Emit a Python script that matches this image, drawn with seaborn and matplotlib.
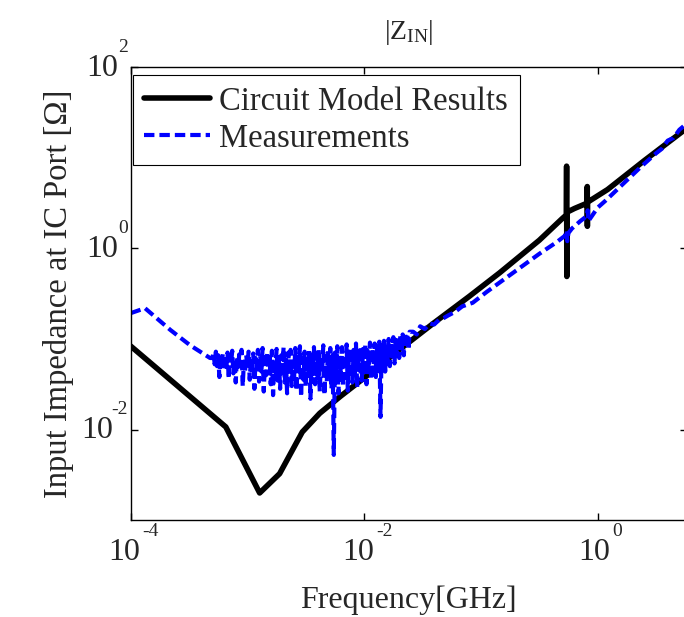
import numpy as np
import pandas as pd
import matplotlib
matplotlib.use("Agg")
import matplotlib.pyplot as plt
from matplotlib.ticker import NullLocator
import seaborn as sns

# valores, en exponentes log10 (frecuencia en GHz, impedancia en ohm)
model_logf = [-4.0, -3.185, -2.895, -2.724, -2.53, -2.38, -2.2, -2.0, -1.7, -1.4,
              -1.1, -0.84, -0.5, -0.303, -0.268, -0.266, -0.264, -0.262, -0.2,
              -0.09, -0.089, -0.088, -0.087, 0.085, 0.4, 0.746]
model_logz = [-1.078, -1.971, -2.70, -2.487, -2.027, -1.82, -1.63, -1.43, -1.12, -0.82,
              -0.53, -0.27, 0.09, 0.33, 0.37, 0.908, -0.31, 0.40, 0.44,
              0.50, 0.683, 0.244, 0.51, 0.65, 0.97, 1.31]

# medicion: tramo inicial
meas_logf_start = [-4.0, -3.877, -3.66, -3.49, -3.32]
meas_logz_start = [-0.715, -0.66, -0.90, -1.07, -1.21]

# medicion: tramo ruidoso (muestreado cada 0.01 decadas, de -3.30 a -1.61)
meas_logf_noise = np.arange(-330, -160) / 100.0
meas_logz_noise = [-1.21, -1.15, -1.28, -1.14, -1.30, -1.18, -1.42, -1.20, -1.26, -1.16,
                   -1.35, -1.22, -1.31, -1.15, -1.44, -1.19, -1.27, -1.13, -1.38, -1.24,
                   -1.48, -1.20, -1.33, -1.17, -1.29, -1.12, -1.52, -1.25, -1.36, -1.18,
                   -1.30, -1.14, -1.45, -1.22, -1.38, -1.16, -1.55, -1.21, -1.33, -1.12,
                   -1.47, -1.19, -1.36, -1.10, -1.58, -1.24, -1.40, -1.15, -1.32, -1.20,
                   -1.50, -1.13, -1.62, -1.26, -1.37, -1.11, -1.46, -1.21, -1.55, -1.18,
                   -1.34, -1.09, -1.48, -1.23, -1.60, -1.15, -1.39, -1.12, -1.52, -1.25,
                   -1.42, -1.10, -1.57, -1.20, -1.35, -1.08, -1.64, -1.22, -1.45, -1.14,
                   -1.53, -1.18, -1.40, -1.11, -1.66, -1.24, -1.38, -1.09, -1.50, -1.16,
                   -1.44, -1.12, -1.58, -1.20, -1.36, -1.07, -1.62, -1.19, -1.47, -1.13,
                   -1.40, -1.10, -1.55, -1.18, -2.28, -1.15, -1.45, -1.08, -1.60, -1.21,
                   -1.38, -1.09, -1.52, -1.17, -1.43, -1.06, -1.57, -1.14, -1.36, -1.10,
                   -1.48, -1.12, -1.41, -1.05, -1.54, -1.16, -1.35, -1.08, -1.46, -1.11,
                   -1.39, -1.06, -1.50, -1.13, -1.33, -1.04, -1.45, -1.10, -1.37, -1.05,
                   -1.42, -1.08, -1.32, -1.03, -1.86, -1.07, -1.30, -1.02, -1.36, -1.06,
                   -1.25, -1.00, -1.30, -1.03, -1.22, -0.98, -1.27, -1.01, -1.18, -0.97,
                   -1.21, -0.96, -1.15, -0.95, -1.18, -0.93, -1.10, -0.94, -1.12, -0.92]

# medicion: tramo final (inductivo)
meas_logf_end = [-1.58, -1.55, -1.52, -1.48, -1.44, -1.40, -1.36, -1.32, -1.28, -1.22,
                 -1.16, -1.07, -0.95, -0.80, -0.65, -0.50, -0.35, -0.28, -0.265, -0.26,
                 -0.25, -0.22, -0.15, -0.09, -0.085, -0.08, 0.0, 0.07, 0.2, 0.37,
                 0.5, 0.55, 0.6, 0.65, 0.7, 0.746]
meas_logz_end = [-0.92, -0.95, -0.86, -0.89, -0.83, -0.84, -0.79, -0.77, -0.74, -0.70,
                 -0.64, -0.60, -0.48, -0.34, -0.20, -0.06, 0.07, 0.14, 0.20, 0.08,
                 0.17, 0.22, 0.30, 0.36, 0.42, 0.30, 0.45, 0.53, 0.69, 0.90,
                 1.05, 1.10, 1.19, 1.22, 1.31, 1.36]

x_ticks = [1e-4, 1e-2, 1e0]
x_exps = ["-4", "-2", "0"]
y_ticks = [1e-2, 1e0, 1e2]
y_exps = ["-2", "0", "2"]

model = pd.DataFrame({"f": 10.0 ** np.array(model_logf),
                      "z": 10.0 ** np.array(model_logz)})
meas_logf = np.concatenate([meas_logf_start, meas_logf_noise, meas_logf_end])
meas_logz = np.concatenate([meas_logz_start, meas_logz_noise, meas_logz_end])
meas = pd.DataFrame({"f": 10.0 ** meas_logf, "z": 10.0 ** meas_logz})

sns.set_style("ticks")
plt.rcParams["font.family"] = ["Liberation Serif", "DejaVu Serif"]
plt.rcParams["mathtext.fontset"] = "custom"
plt.rcParams["mathtext.rm"] = "Liberation Serif"
plt.rcParams["mathtext.it"] = "Liberation Serif:italic"
plt.rcParams["mathtext.default"] = "regular"

fig = plt.figure(figsize=(6.84, 6.17), dpi=100)
ax = fig.add_axes([0.191, 0.157, 0.813, 0.734])
ax.set_xscale("log")
ax.set_yscale("log")

sns.lineplot(data=model, x="f", y="z", ax=ax, color="black", lw=4,
             sort=False, estimator=None, label="Circuit Model Results")
sns.lineplot(data=meas, x="f", y="z", ax=ax, color="#0000ff", lw=3,
             linestyle=(0, (2.5, 1.2)), sort=False, estimator=None,
             label="Measurements")

ax.set_xlim(1e-4, 10 ** 0.763)
ax.set_ylim(1e-3, 1e2)
ax.set_xticks(x_ticks)
ax.set_yticks(y_ticks)
ax.xaxis.set_minor_locator(NullLocator())
ax.yaxis.set_minor_locator(NullLocator())
ax.tick_params(direction="in", length=5, width=1, top=True, right=True,
               labelbottom=False, labelleft=False, colors="black")
for s in ax.spines.values():
    s.set_color("black")
    s.set_linewidth(1)

# etiquetas estilo MATLAB: "10" con exponente pequeño y elevado
big, small = 23, 14
for t, e in zip(x_ticks, x_exps):
    w = 3 * len(e)
    ax.annotate("10", xy=(t, 0), xycoords=ax.get_xaxis_transform(),
                xytext=(-w, -18), textcoords="offset pixels",
                ha="center", va="top", fontsize=big, annotation_clip=False)
    ax.annotate(e, xy=(t, 0), xycoords=ax.get_xaxis_transform(),
                xytext=(18 - w, -3), textcoords="offset pixels",
                ha="left", va="top", fontsize=small, annotation_clip=False)
for t, e in zip(y_ticks, y_exps):
    w = 4 + 5 * len(e)
    ax.annotate("10", xy=(0, t), xycoords=ax.get_yaxis_transform(),
                xytext=(-4 - w, -1), textcoords="offset pixels",
                ha="right", va="center", fontsize=big, annotation_clip=False)
    ax.annotate(e, xy=(0, t), xycoords=ax.get_yaxis_transform(),
                xytext=(-3, 20), textcoords="offset pixels",
                ha="right", va="center", fontsize=small, annotation_clip=False)

ax.set_xlabel("Frequency[GHz]", fontsize=23, labelpad=47)
ax.set_ylabel("Input Impedance at IC Port [Ω]", fontsize=23.5, labelpad=41)
ax.set_title(r"$\mathrm{|Z_{IN}|}$", fontsize=20, pad=20)

leg = ax.legend(loc="upper left", bbox_to_anchor=(0.004, 0.983), borderaxespad=0,
                fontsize=23.5, handlelength=2.0, handletextpad=0.3,
                labelspacing=0.2, borderpad=0.35, fancybox=False,
                framealpha=1, edgecolor="black")
leg.get_frame().set_linewidth(0.8)

fig.savefig("out.png", dpi=100)
